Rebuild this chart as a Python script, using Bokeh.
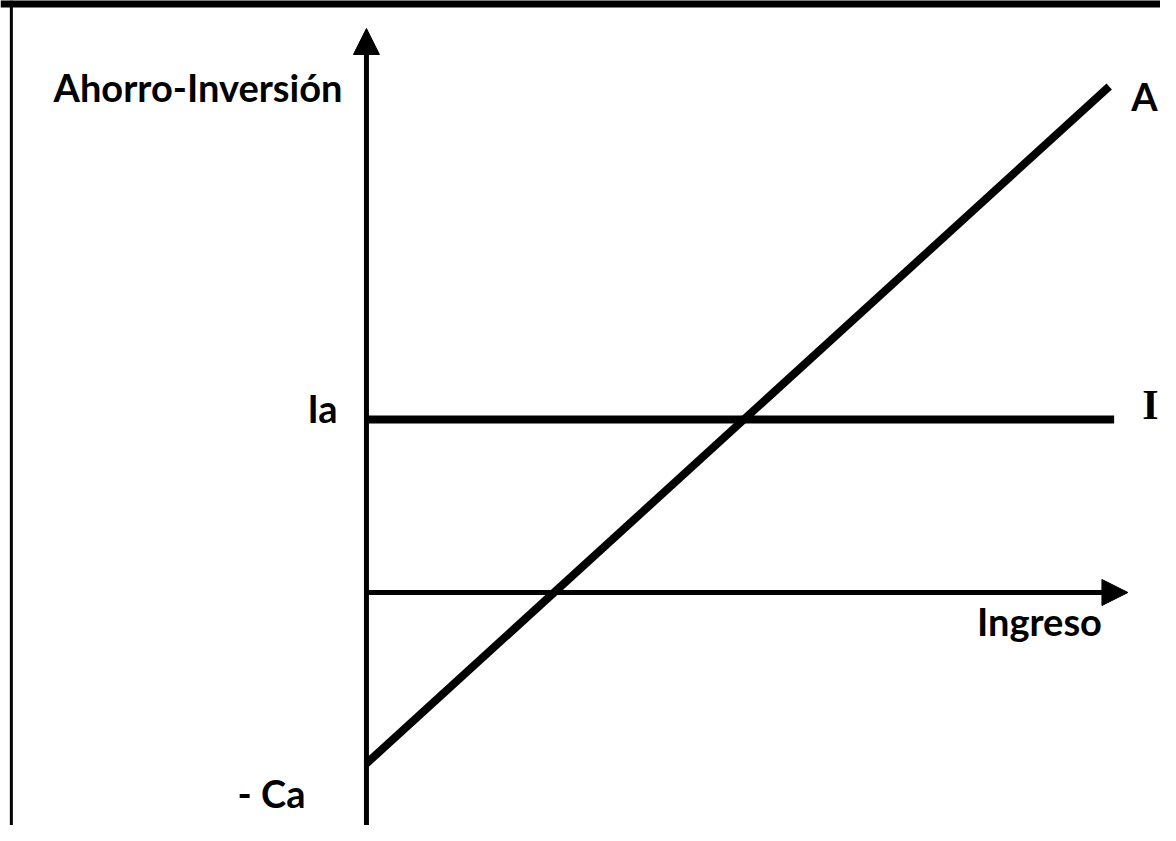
from bokeh.plotting import figure
from bokeh.models import Range1d, Arrow, NormalHead, Label, Span
from bokeh.embed import file_html
from bokeh.resources import INLINE

# Schematic values of the diagram (arbitrary units)
ingreso_max = 7.72            # end of the income axis (arrow tip)
eje_vertical = [-2.33, 5.64]  # extent of the saving-investment axis
ca = 1.71                     # autonomous consumption  -> saving intercept -Ca
ia = 1.73                     # autonomous investment Ia
ahorro_ingreso = [0.0, 7.53]
ahorro_valores = [-ca, 5.06]
inversion_ingreso = [0.0, 7.58]
inversion_valores = [ia, ia]

etiqueta_y = "Ahorro-Inversión"
etiqueta_x = "Ingreso"
etiqueta_ia = "Ia"
etiqueta_ca = "- Ca"
etiqueta_ahorro = "A"
etiqueta_inversion = "I"

x0, x1 = -3.71, 8.05
y0, y1 = -2.33, 5.92

p = figure(width=1160, height=825,
           x_range=Range1d(x0, x1), y_range=Range1d(y0, y1),
           output_backend="svg", toolbar_location=None, min_border=0)
p.axis.visible = False
p.grid.visible = False
p.outline_line_color = None
p.background_fill_color = "white"
p.border_fill_color = "white"

# page frame (top and left borders)
p.add_layout(Span(location=y1, dimension="width", line_color="black", line_width=14))
p.add_layout(Span(location=-3.60, dimension="height", line_color="black", line_width=3))

# axes with arrow heads
p.add_layout(Arrow(end=NormalHead(size=26, fill_color="black", line_color="black"),
                   x_start=0, y_start=eje_vertical[0], x_end=0, y_end=eje_vertical[1],
                   line_color="black", line_width=5))
p.add_layout(Arrow(end=NormalHead(size=26, fill_color="black", line_color="black"),
                   x_start=0, y_start=0, x_end=ingreso_max, y_end=0,
                   line_color="black", line_width=5))

# investment and saving lines
p.line(inversion_ingreso, inversion_valores, line_color="black", line_width=8)
p.line(ahorro_ingreso, ahorro_valores, line_color="black", line_width=8)

sans = dict(text_font="Lato", text_font_style="bold", text_font_size="38px",
            text_color="black", text_baseline="alphabetic")

p.add_layout(Label(x=0, y=eje_vertical[1], text=etiqueta_y, text_align="right",
                   x_offset=-24, y_offset=-58, **sans))
p.add_layout(Label(x=0, y=ia, text=etiqueta_ia, text_align="right",
                   x_offset=-29, y_offset=12, **sans))
p.add_layout(Label(x=0, y=-ca, text=etiqueta_ca, text_align="right",
                   x_offset=-61, y_offset=-29, **sans))
p.add_layout(Label(x=ingreso_max, y=0, text=etiqueta_x, text_align="right",
                   x_offset=-26, y_offset=-28, **sans))
p.add_layout(Label(x=ahorro_ingreso[1], y=ahorro_valores[1], text=etiqueta_ahorro,
                   text_align="left", x_offset=22, y_offset=-9, **sans))
p.add_layout(Label(x=inversion_ingreso[1], y=inversion_valores[1], text=etiqueta_inversion,
                   text_align="left", x_offset=28, y_offset=15,
                   text_font="Liberation Serif", text_font_style="bold",
                   text_font_size="42px", text_color="black", text_baseline="alphabetic"))

open("out.html", "w").write(file_html(p, INLINE))
